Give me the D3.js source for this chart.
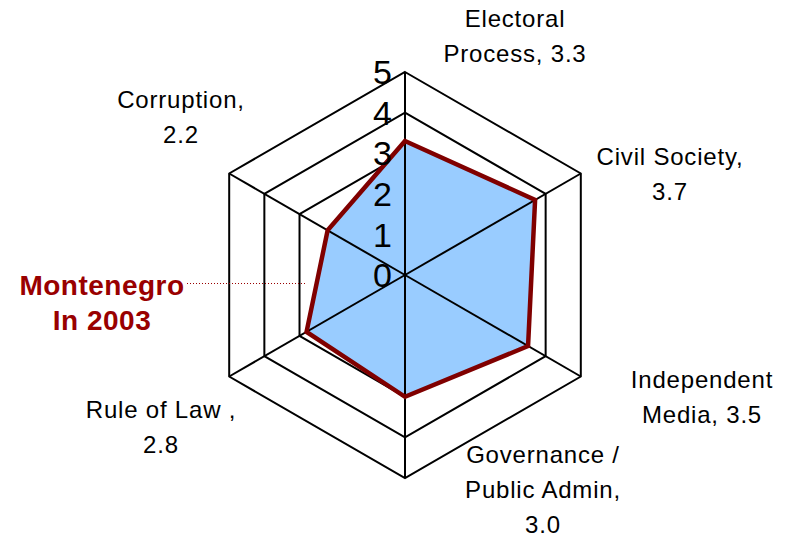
<!DOCTYPE html>
<html>
<head>
<meta charset="utf-8">
<script src="https://cdn.jsdelivr.net/npm/d3@7"></script>
<style>
  body { margin: 0; background: #fff; }
  text { font-family: Arial, "Liberation Sans", sans-serif; }
</style>
</head>
<body>
<div id="graphic"></div>
<script>
// categories clockwise from top, with their scores
var categories = ["Electoral Process", "Civil Society", "Independent Media",
                  "Governance / Public Admin", "Rule of Law", "Corruption"];
var scores = [3.3, 3.7, 3.5, 3.0, 2.8, 2.2];
var ticks = [0, 1, 2, 3, 4, 5];
// label lines as printed on the chart
var labelLines = [
  ["Electoral", "Process, 3.3"],
  ["Civil Society,", "3.7"],
  ["Independent", "Media, 3.5"],
  ["Governance /", "Public Admin,", "3.0"],
  ["Rule of Law ,", "2.8"],
  ["Corruption,", "2.2"]
];
var seriesName = ["Montenegro", "In 2003"];

var W = 790, H = 541;
var cx = 405, cy = 275;

var svg = d3.select("#graphic").append("svg")
    .attr("width", W)
    .attr("height", H);

var r = d3.scaleLinear().domain([0, 5]).range([0, 203]);
var angle = d3.scaleLinear().domain([0, categories.length]).range([0, 2 * Math.PI]);

function pt(i, v) {
  var a = angle(i);
  return [cx + r(v) * Math.sin(a), cy - r(v) * Math.cos(a)];
}

var line = d3.line();

//Draw gridlines (rings) first, the fill covers the inner ones
svg.append("g").selectAll("path")
  .data(ticks.filter(function(t) { return t > 0; }))
  .enter().append("path")
  .attr("d", function(t) {
    return line(categories.map(function(c, i) { return pt(i, t); })) + "Z";
  })
  .attr("fill", "none")
  .attr("stroke", "#000")
  .attr("stroke-width", 2);

//Area
var dataPts = scores.map(function(v, i) { return pt(i, v); });
svg.append("path")
  .attr("d", line(dataPts) + "Z")
  .attr("fill", "#99ccff")
  .attr("stroke", "none");

//Spokes
svg.append("g").selectAll("line")
  .data(categories)
  .enter().append("line")
  .attr("x1", cx).attr("y1", cy)
  .attr("x2", function(c, i) { return pt(i, 5)[0]; })
  .attr("y2", function(c, i) { return pt(i, 5)[1]; })
  .attr("stroke", "#000")
  .attr("stroke-width", 2);

//Series outline
svg.append("path")
  .attr("d", line(dataPts) + "Z")
  .attr("fill", "none")
  .attr("stroke", "#800000")
  .attr("stroke-width", 4.5)
  .attr("stroke-linejoin", "miter");

//Value axis labels
svg.append("g").selectAll("text")
  .data(ticks)
  .enter().append("text")
  .attr("x", cx - 13)
  .attr("y", function(t) { return cy - r(t); })
  .attr("dy", "0.36em")
  .attr("text-anchor", "end")
  .attr("font-size", 34)
  .attr("fill", "#000")
  .text(function(t) { return t; });

//Category labels
var labelPos = [[515, 27], [670, 165], [702, 388], [543, 463], [161, 418], [181, 108]];
var lab = svg.append("g").selectAll("text")
  .data(labelLines)
  .enter().append("text")
  .attr("text-anchor", "middle")
  .attr("font-size", 24)
  .attr("letter-spacing", 0.8)
  .attr("fill", "#000")
  .attr("x", function(d, i) { return labelPos[i][0]; })
  .attr("y", function(d, i) { return labelPos[i][1]; });
lab.selectAll("tspan")
  .data(function(d, i) { return d.map(function(s) { return { s: s, x: labelPos[i][0] }; }); })
  .enter().append("tspan")
  .attr("x", function(d) { return d.x; })
  .attr("dy", function(d, j) { return j === 0 ? 0 : 35; })
  .text(function(d) { return d.s; });

//Series name with dotted leader
svg.append("line")
  .attr("x1", 187).attr("y1", 283.5)
  .attr("x2", 305).attr("y2", 283.5)
  .attr("stroke", "#990000")
  .attr("stroke-width", 1)
  .attr("stroke-dasharray", "1,2");

svg.append("g").selectAll("text")
  .data(seriesName)
  .enter().append("text")
  .attr("x", 102)
  .attr("y", function(d, i) { return 295 + i * 35; })
  .attr("text-anchor", "middle")
  .attr("font-size", 28)
  .attr("letter-spacing", 0.5)
  .attr("font-weight", "bold")
  .attr("fill", "#990000")
  .text(function(d) { return d; });
</script>
</body>
</html>
